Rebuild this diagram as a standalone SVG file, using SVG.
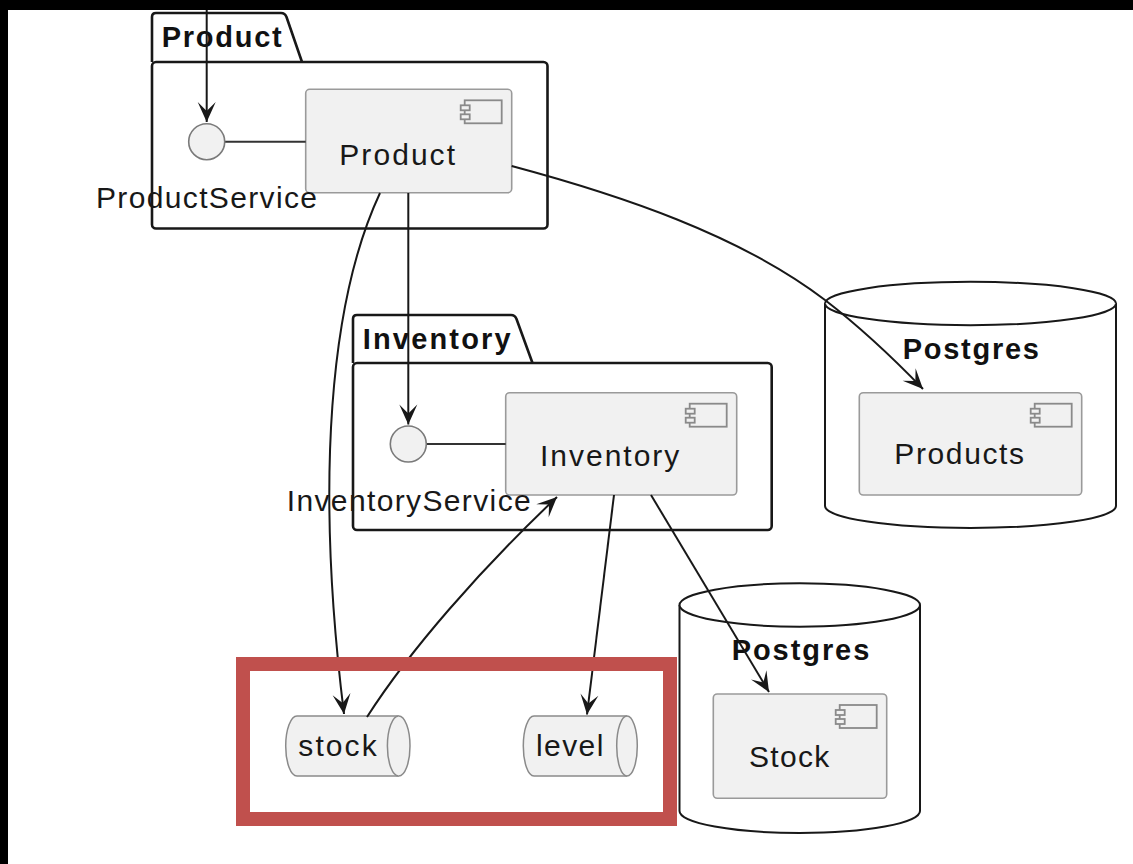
<svg xmlns="http://www.w3.org/2000/svg" width="1133" height="864" viewBox="0 0 1133 864">
<style>
.pkg{fill:none;stroke:#181818;stroke-width:2.6;stroke-linejoin:round}
.db{fill:#fff;stroke:#181818;stroke-width:2}
.comp{fill:#f1f1f1;stroke:#9a9a9a;stroke-width:1.6}
.icon{fill:#f1f1f1;stroke:#8a8a8a;stroke-width:1.8}
.ifc{fill:#f1f1f1;stroke:#7a7a7a;stroke-width:1.6}
.q{fill:#f1f1f1;stroke:#8a8a8a;stroke-width:1.5}
.t{font-family:"Liberation Sans",Arial,sans-serif;font-size:30px;fill:#181818}
.b{font-family:"Liberation Sans",Arial,sans-serif;font-size:29px;font-weight:bold;fill:#111}
.c{fill:none;stroke:#181818;stroke-width:2}
.lnk{stroke:#333;stroke-width:2}
</style>
<defs>
<marker id="ah" markerUnits="userSpaceOnUse" viewBox="-21 -10 22 20" refX="0" refY="0" markerWidth="22" markerHeight="20" orient="auto">
<path d="M0,0 L-20,-9 L-11,0 L-20,9 Z" fill="#181818"/>
</marker>
</defs>
<rect x="0" y="0" width="1133" height="864" fill="#000"/>
<rect x="8" y="10" width="1125" height="854" fill="#fff"/>

<g id="pkg-product">
<path class="pkg" d="M152,62 L152,17 Q152,13 156,13 L281,13 Q285,13 286.5,17 L302,62"/>
<rect class="pkg" x="152" y="62" width="395.5" height="166.5" rx="4"/>
<text class="b" x="161.7" y="47" textLength="120" lengthAdjust="spacing">Product</text>
</g>

<g id="pkg-inventory">
<path class="pkg" d="M353,363 L353,319 Q353,315 357,315 L511,315 Q515,315 516.5,319 L532.5,363"/>
<rect class="pkg" x="353" y="363" width="418.7" height="167" rx="4"/>
<text class="b" x="362.7" y="348.5" textLength="148" lengthAdjust="spacing">Inventory</text>
</g>

<g id="db-products">
<path class="db" d="M825,303.5 A145.5,21.7 0 0 1 1116,303.5 L1116,506 A145.5,22 0 0 1 825,506 Z"/>
<path class="db" fill="none" d="M825,303.5 A145.5,21.7 0 0 0 1116,303.5"/>
<text class="b" x="902.7" y="359.3" textLength="136.3" lengthAdjust="spacing">Postgres</text>
</g>

<g id="db-stock">
<path class="db" d="M679.5,605 A120.25,21.7 0 0 1 920,605 L920,811 A120.25,22 0 0 1 679.5,811 Z"/>
<path class="db" fill="none" d="M679.5,605 A120.25,21.7 0 0 0 920,605"/>
<text class="b" x="731.7" y="660" textLength="137.6" lengthAdjust="spacing">Postgres</text>
</g>

<g id="comp-product">
<rect class="comp" x="305.7" y="89.3" width="206" height="103.4" rx="4"/>
<rect class="icon" x="464.7" y="100.3" width="37" height="23"/>
<rect class="icon" x="460.7" y="105.3" width="9" height="5"/>
<rect class="icon" x="460.7" y="114.3" width="9" height="5"/>
<text class="t" x="339.3" y="165" textLength="115.7" lengthAdjust="spacing">Product</text>
</g>

<g id="ifc-productservice">
<line class="lnk" x1="225" y1="141.7" x2="305.7" y2="141.7"/>
<circle class="ifc" cx="206.7" cy="141.7" r="18"/>
<text class="t" x="96" y="208.4" textLength="221" lengthAdjust="spacing">ProductService</text>
</g>

<g id="comp-inventory">
<rect class="comp" x="505.7" y="392.7" width="231" height="102.3" rx="4"/>
<rect class="icon" x="689.7" y="403.7" width="37" height="23"/>
<rect class="icon" x="685.7" y="408.7" width="9" height="5"/>
<rect class="icon" x="685.7" y="417.7" width="9" height="5"/>
<text class="t" x="540" y="465.7" textLength="139.3" lengthAdjust="spacing">Inventory</text>
</g>

<g id="ifc-inventoryservice">
<line class="lnk" x1="426.5" y1="444" x2="505.7" y2="444"/>
<circle class="ifc" cx="408.3" cy="444" r="18"/>
<text class="t" x="286.7" y="510.5" textLength="244" lengthAdjust="spacing">InventoryService</text>
</g>

<g id="comp-products">
<rect class="comp" x="859.3" y="392.7" width="222.4" height="102.3" rx="4"/>
<rect class="icon" x="1034.7" y="403.7" width="37" height="23"/>
<rect class="icon" x="1030.7" y="408.7" width="9" height="5"/>
<rect class="icon" x="1030.7" y="417.7" width="9" height="5"/>
<text class="t" x="894.3" y="464.3" textLength="129.7" lengthAdjust="spacing">Products</text>
</g>

<g id="comp-stock">
<rect class="comp" x="713.3" y="694" width="173.4" height="104.3" rx="4"/>
<rect class="icon" x="839.7" y="705" width="37" height="23"/>
<rect class="icon" x="835.7" y="710" width="9" height="5"/>
<rect class="icon" x="835.7" y="719" width="9" height="5"/>
<text class="t" x="749" y="766.7" textLength="80.3" lengthAdjust="spacing">Stock</text>
</g>

<g id="queue-stock">
<path class="q" d="M297,716 H398.7 A11.3,30 0 0 1 398.7,776 H297 A11.3,30 0 0 1 297,716 Z"/>
<path class="q" d="M398.7,716 A11.3,30 0 0 0 398.7,776"/>
<text class="t" x="298.3" y="755.7" textLength="78.4" lengthAdjust="spacing">stock</text>
</g>

<g id="queue-level">
<path class="q" d="M534,716 H627 A10.3,30 0 0 1 627,776 H534 A10.7,30 0 0 1 534,716 Z"/>
<path class="q" d="M627,716 A10.3,30 0 0 0 627,776"/>
<text class="t" x="536" y="755.7" textLength="67.3" lengthAdjust="spacing">level</text>
</g>

<g id="connectors">
<path class="c" d="M206.7,10 L206.7,122" marker-end="url(#ah)"/>
<path class="c" d="M380,193 C330,300 315,480 344,714" marker-end="url(#ah)"/>
<path class="c" d="M408.3,193 L408.3,424.5" marker-end="url(#ah)"/>
<path class="c" d="M511.7,166 C620,195 740,235 825,300 C860,327 895,360 923,389" marker-end="url(#ah)"/>
<path class="c" d="M367,717 C410,650 480,570 557,497" marker-end="url(#ah)"/>
<path class="c" d="M614,495 L587,714.5" marker-end="url(#ah)"/>
<path class="c" d="M651,495 L769,692" marker-end="url(#ah)"/>
</g>

<rect x="243" y="664" width="427" height="155" fill="none" stroke="#c0504d" stroke-width="14"/>
</svg>
